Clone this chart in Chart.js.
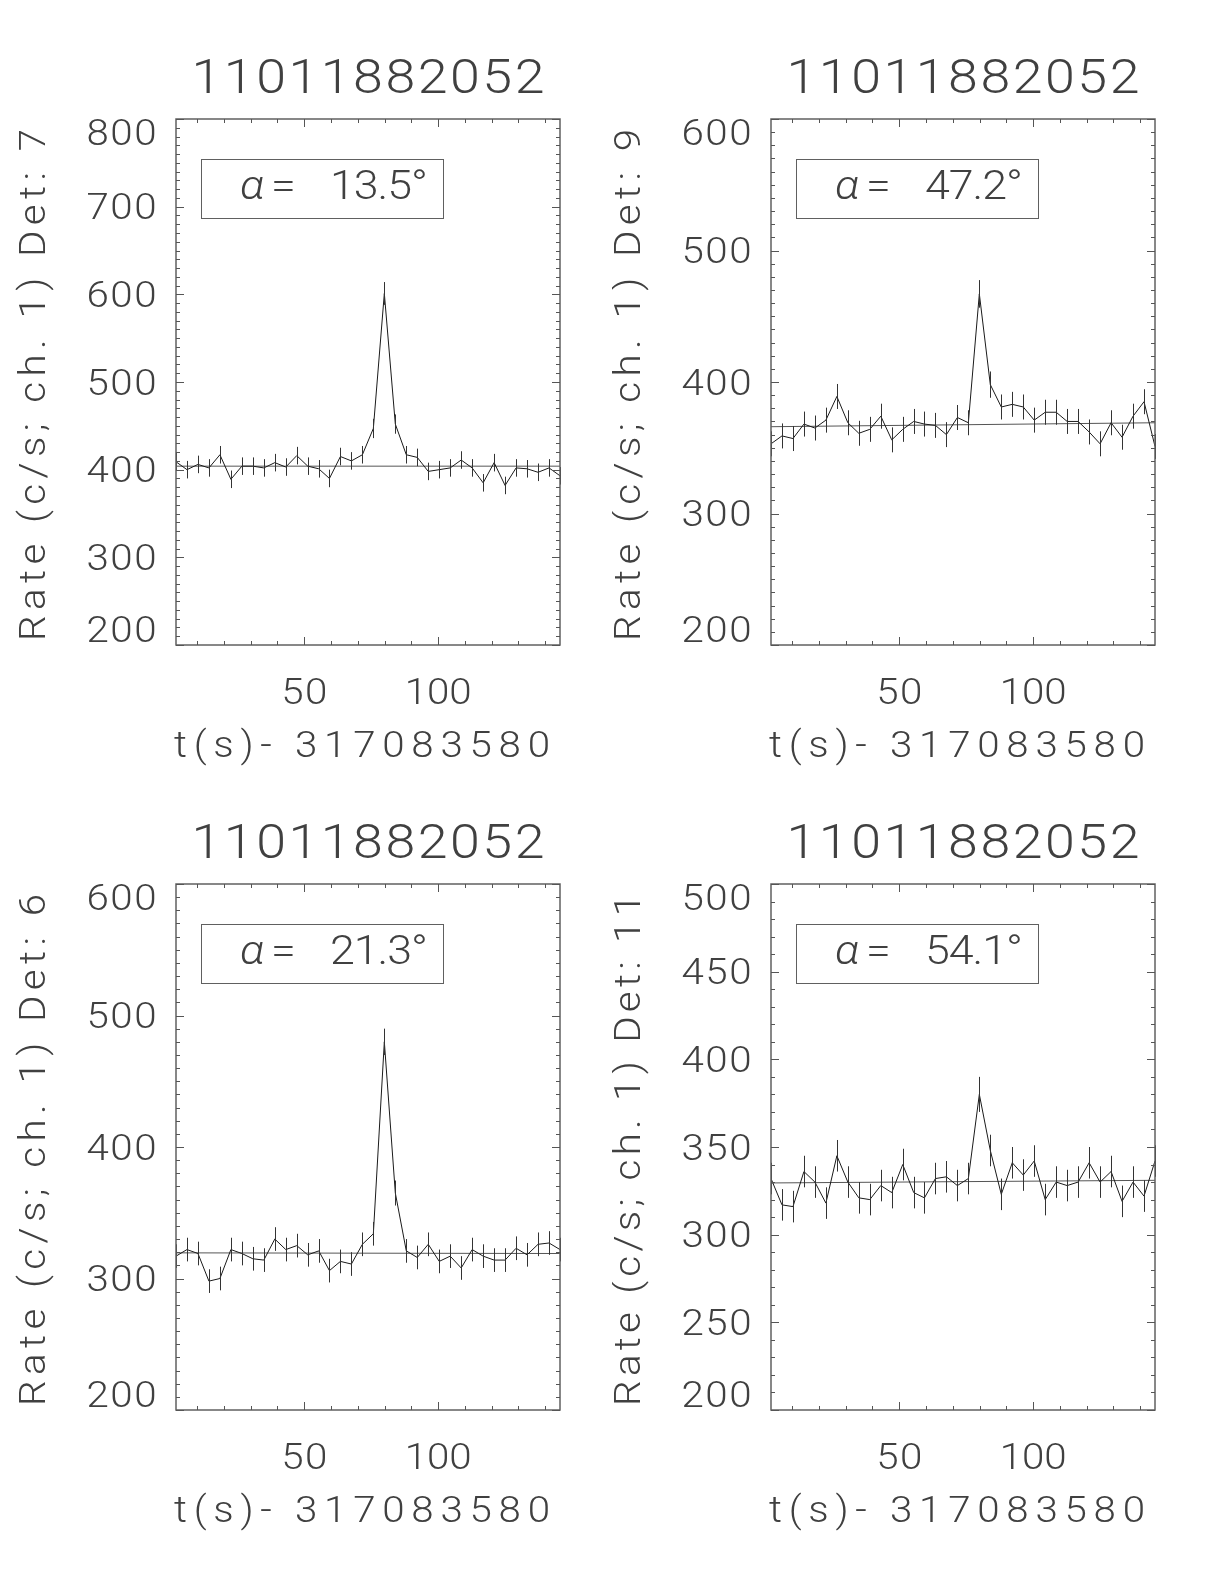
<!DOCTYPE html>
<html><head><meta charset="utf-8">
<script src="https://cdn.jsdelivr.net/npm/chart.js@4/dist/chart.umd.min.js"></script>
<style>
html,body{margin:0;padding:0;background:#fff;}
#wrap{position:relative;width:1224px;height:1584px;background:#fff;}
canvas{position:absolute;}
</style></head><body><div id="wrap">
<canvas id="c0" width="612" height="792" style="left:0;top:0;width:612px;height:792px"></canvas>
<canvas id="c1" width="612" height="792" style="left:612px;top:0;width:612px;height:792px"></canvas>
<canvas id="c2" width="612" height="792" style="left:0;top:792px;width:612px;height:792px"></canvas>
<canvas id="c3" width="612" height="792" style="left:612px;top:792px;width:612px;height:792px"></canvas>
</div>
<script>
// ---- data ----
const times = [2.1, 6.2, 10.3, 14.4, 18.5, 22.6, 26.7, 30.8, 34.9, 39.0, 43.1, 47.2, 51.3, 55.4, 59.4, 63.5, 67.6, 71.7, 75.8, 79.9, 84.0, 88.1, 92.2, 96.3, 100.4, 104.5, 108.6, 112.7, 116.8, 120.9, 125.0, 129.1, 133.2, 137.3, 141.4, 145.5];

const rateDet7 = [409, 400, 406, 402, 417, 389, 404, 404, 402, 408, 403, 416, 404, 401, 390, 415, 410, 417, 447, 601, 452, 417, 414, 398, 400, 402, 411, 402, 385, 408, 382, 402, 401, 397, 402, 393];
const errDet7  = [10, 10, 10, 10, 10, 10, 10, 10, 10, 10, 10, 10, 10, 10, 10, 10, 10, 10, 11, 13, 11, 10, 10, 10, 10, 10, 10, 10, 10, 10, 10, 10, 10, 10, 10, 10];
const bkgDet7  = [404, 404];

const rateDet9 = [353, 359, 357, 368, 365, 371, 389, 369, 361, 364, 374, 356, 364, 370, 368, 367, 360, 373, 369, 467, 398, 381, 383, 381, 371, 377, 377, 370, 370, 362, 353, 369, 358, 374, 385, 351];
const errDet9  = [9.5, 9.5, 9.5, 9.5, 9.5, 9.5, 9.5, 9.5, 9.5, 9.5, 9.5, 9.5, 9.5, 9.5, 9.5, 9.5, 9.5, 9.5, 9.5, 10.5, 10, 9.5, 9.5, 9.5, 9.5, 9.5, 9.5, 9.5, 9.5, 9.5, 9.5, 9.5, 9.5, 9.5, 9.5, 9.5];
const bkgDet9  = [366, 369];

const rateDet6 = [317, 322, 319, 298, 300, 322, 319, 315, 314, 330, 322, 325, 318, 321, 306, 313, 311, 326, 334, 480, 365, 321, 316, 326, 313, 317, 308, 322, 317, 314, 314, 323, 318, 326, 327, 322];
const errDet6  = [9, 9, 9, 9, 9, 9, 9, 9, 9, 9, 9, 9, 9, 9, 9, 9, 9, 9, 9, 10, 9.5, 9, 9, 9, 9, 9, 9, 9, 9, 9, 9, 9, 9, 9, 9, 9];
const bkgDet6  = [319.5, 319];

const rateDet11 = [332, 317, 316, 336, 330, 318, 345, 330, 321, 320, 328, 324, 340, 324, 321, 332, 333, 328, 332, 380, 348, 323, 341, 334, 342, 320, 330, 328, 330, 341, 330, 336, 319, 330, 322, 342];
const errDet11  = [9, 9, 9, 9, 9, 9, 9, 9, 9, 9, 9, 9, 9, 9, 9, 9, 9, 9, 9, 10, 9, 9, 9, 9, 9, 9, 9, 9, 9, 9, 9, 9, 9, 9, 9, 9];
const bkgDet11  = [329.5, 331];

const titleText = '11011882052';
const xTitleText = 't(s)- 317083580';
const yTitles = ['Rate (c/s; ch. 1) Det: 7', 'Rate (c/s; ch. 1) Det: 9', 'Rate (c/s; ch. 1) Det: 6', 'Rate (c/s; ch. 1) Det: 11'];
const alphaValues = ['13.5', '47.2', '21.3', '54.1'];
const yMins = [200, 200, 200, 200];
const yMaxs = [800, 600, 600, 500];
const yMajorSteps = [100, 100, 100, 50];
const xMajorTicks = [50, 100];
const minorStep = 10;

// ---- layout / style ----
const FONT = '"DejaVu Sans ExtraLight", "Roboto Light", "Lato Light", "Open Sans Light", Inter, sans-serif';
const WEIGHT = 'normal';
const STRETCH = 1.12;
const TXT = '#404040';
const paddings = [
  {left:176, top:119, right:52, bottom:147},
  {left:159, top:119, right:69, bottom:147},
  {left:176, top:92,  right:52, bottom:174},
  {left:159, top:92,  right:69, bottom:174}
];

function drawSpaced(ctx, text, x, y, size, targetW, align, italic) {
  ctx.font = `${italic ? 'italic ' : ''}${WEIGHT} ${size}px ${FONT}`;
  ctx.textBaseline = 'middle';
  ctx.textAlign = 'left';
  const chars = Array.from(text);
  const ws = chars.map(c => ctx.measureText(c).width * STRETCH);
  const total = ws.reduce((a, b) => a + b, 0);
  let gap = 0;
  if (targetW != null && chars.length > 1) gap = (targetW - total) / (chars.length - 1);
  const W = total + gap * (chars.length - 1);
  let sx = x;
  if (align === 'center') sx = x - W / 2;
  else if (align === 'right') sx = x - W;
  chars.forEach((c, i) => {
    ctx.save(); ctx.translate(sx, y); ctx.scale(STRETCH, 1); ctx.fillText(c, 0, 0); ctx.restore();
    sx += ws[i] + gap;
  });
  return W;
}

function makeDecor(idx, errs) {
  return {
    id: 'decor' + idx,
    afterDatasetsDraw(chart) {
      const ctx = chart.ctx;
      const a = chart.chartArea;
      const xs = chart.scales.x, ys = chart.scales.y;
      ctx.save();
      // error bars
      ctx.strokeStyle = '#333';
      ctx.lineWidth = 1;
      const ds = chart.data.datasets[0].data;
      ds.forEach((p, i) => {
        const px = Math.round(xs.getPixelForValue(p.x)) + 0.5;
        const y1 = ys.getPixelForValue(p.y - errs[i]);
        const y2 = ys.getPixelForValue(p.y + errs[i]);
        ctx.beginPath(); ctx.moveTo(px, Math.max(a.top, y2)); ctx.lineTo(px, Math.min(a.bottom, y1)); ctx.stroke();
      });
      // box
      ctx.strokeStyle = '#606060';
      ctx.lineWidth = 1.5;
      ctx.strokeRect(a.left, a.top, a.right - a.left, a.bottom - a.top);
      // ticks
      ctx.lineWidth = 1;
      ctx.strokeStyle = '#555';
      const yMaj = yMajorSteps[idx];
      for (let v = Math.ceil(ys.min / minorStep) * minorStep; v <= ys.max + 1e-9; v += minorStep) {
        const py = Math.round(ys.getPixelForValue(v)) + 0.5;
        const len = (Math.abs(v % yMaj) < 1e-9) ? 8 : 4;
        ctx.beginPath();
        ctx.moveTo(a.left, py); ctx.lineTo(a.left + len, py);
        ctx.moveTo(a.right, py); ctx.lineTo(a.right - len, py);
        ctx.stroke();
      }
      for (let v = Math.ceil(xs.min / minorStep) * minorStep; v <= xs.max + 1e-9; v += minorStep) {
        const px = Math.round(xs.getPixelForValue(v)) + 0.5;
        const len = (v % 50 === 0) ? 8 : 4;
        ctx.beginPath();
        ctx.moveTo(px, a.bottom); ctx.lineTo(px, a.bottom - len);
        ctx.moveTo(px, a.top); ctx.lineTo(px, a.top + len);
        ctx.stroke();
      }
      ctx.fillStyle = TXT;
      // y tick labels
      for (let v = yMins[idx]; v <= yMaxs[idx] + 1e-9; v += yMaj) {
        let py = ys.getPixelForValue(v) + 2;
        if (v === yMaxs[idx]) py = a.top + 15;
        if (v === yMins[idx]) py = a.bottom - 14;
        drawSpaced(ctx, String(v), a.left - 19.5, py, 36, String(v).length * 24.3 - 3, 'right');
      }
      // x tick labels
      xMajorTicks.forEach(v => {
        const px = xs.getPixelForValue(v);
        const s = String(v);
        drawSpaced(ctx, s, px, a.bottom + 48, 36, s.length === 2 ? 46 : 67, 'center');
      });
      const cx = (a.left + a.right) / 2;
      // title
      drawSpaced(ctx, titleText, cx, a.top - 40, 48, 353, 'center');
      // x title
      drawSpaced(ctx, xTitleText, cx - 6, a.bottom + 101, 36, 376, 'center');
      // y title
      ctx.save();
      ctx.translate(a.left - 142, (a.top + a.bottom) / 2 + 3);
      ctx.rotate(-Math.PI / 2);
      drawSpaced(ctx, yTitles[idx], 0, 0, 36, 512, 'center');
      ctx.restore();
      // inset box
      const bl = a.left + 25, bt = a.top + 40;
      ctx.strokeStyle = '#606060';
      ctx.lineWidth = 1;
      ctx.strokeRect(bl + 0.5, bt + 0.5, 242, 59);
      const my = bt + 28;
      drawSpaced(ctx, 'α', bl + 39, my, 40, null, 'left', true);
      drawSpaced(ctx, '=', bl + 70, my, 40, null, 'left');
      drawSpaced(ctx, alphaValues[idx] + '°', bl + 227, my, 40, 98, 'right');
      ctx.restore();
    }
  };
}

const rates = [rateDet7, rateDet9, rateDet6, rateDet11];
const errsAll = [errDet7, errDet9, errDet6, errDet11];
const bkgs = [bkgDet7, bkgDet9, bkgDet6, bkgDet11];

for (let k = 0; k < 4; k++) {
  const tmin = times[0], tmax = times[times.length - 1];
  new Chart(document.getElementById('c' + k), {
    type: 'line',
    data: {
      datasets: [
        { data: times.map((t, i) => ({x: t, y: rates[k][i]})), borderColor: '#1a1a1a', borderWidth: 1, pointRadius: 0, tension: 0, fill: false },
        { data: [{x: tmin, y: bkgs[k][0]}, {x: tmax, y: bkgs[k][1]}], borderColor: '#555', borderWidth: 1, pointRadius: 0, tension: 0, fill: false }
      ]
    },
    options: {
      responsive: false,
      animation: false,
      devicePixelRatio: 1,
      layout: { padding: paddings[k] },
      plugins: { legend: { display: false }, tooltip: { enabled: false }, title: { display: false } },
      scales: {
        x: { type: 'linear', min: tmin, max: tmax, display: false },
        y: { type: 'linear', min: yMins[k], max: yMaxs[k], display: false }
      }
    },
    plugins: [makeDecor(k, errsAll[k])]
  });
}
</script></body></html>
